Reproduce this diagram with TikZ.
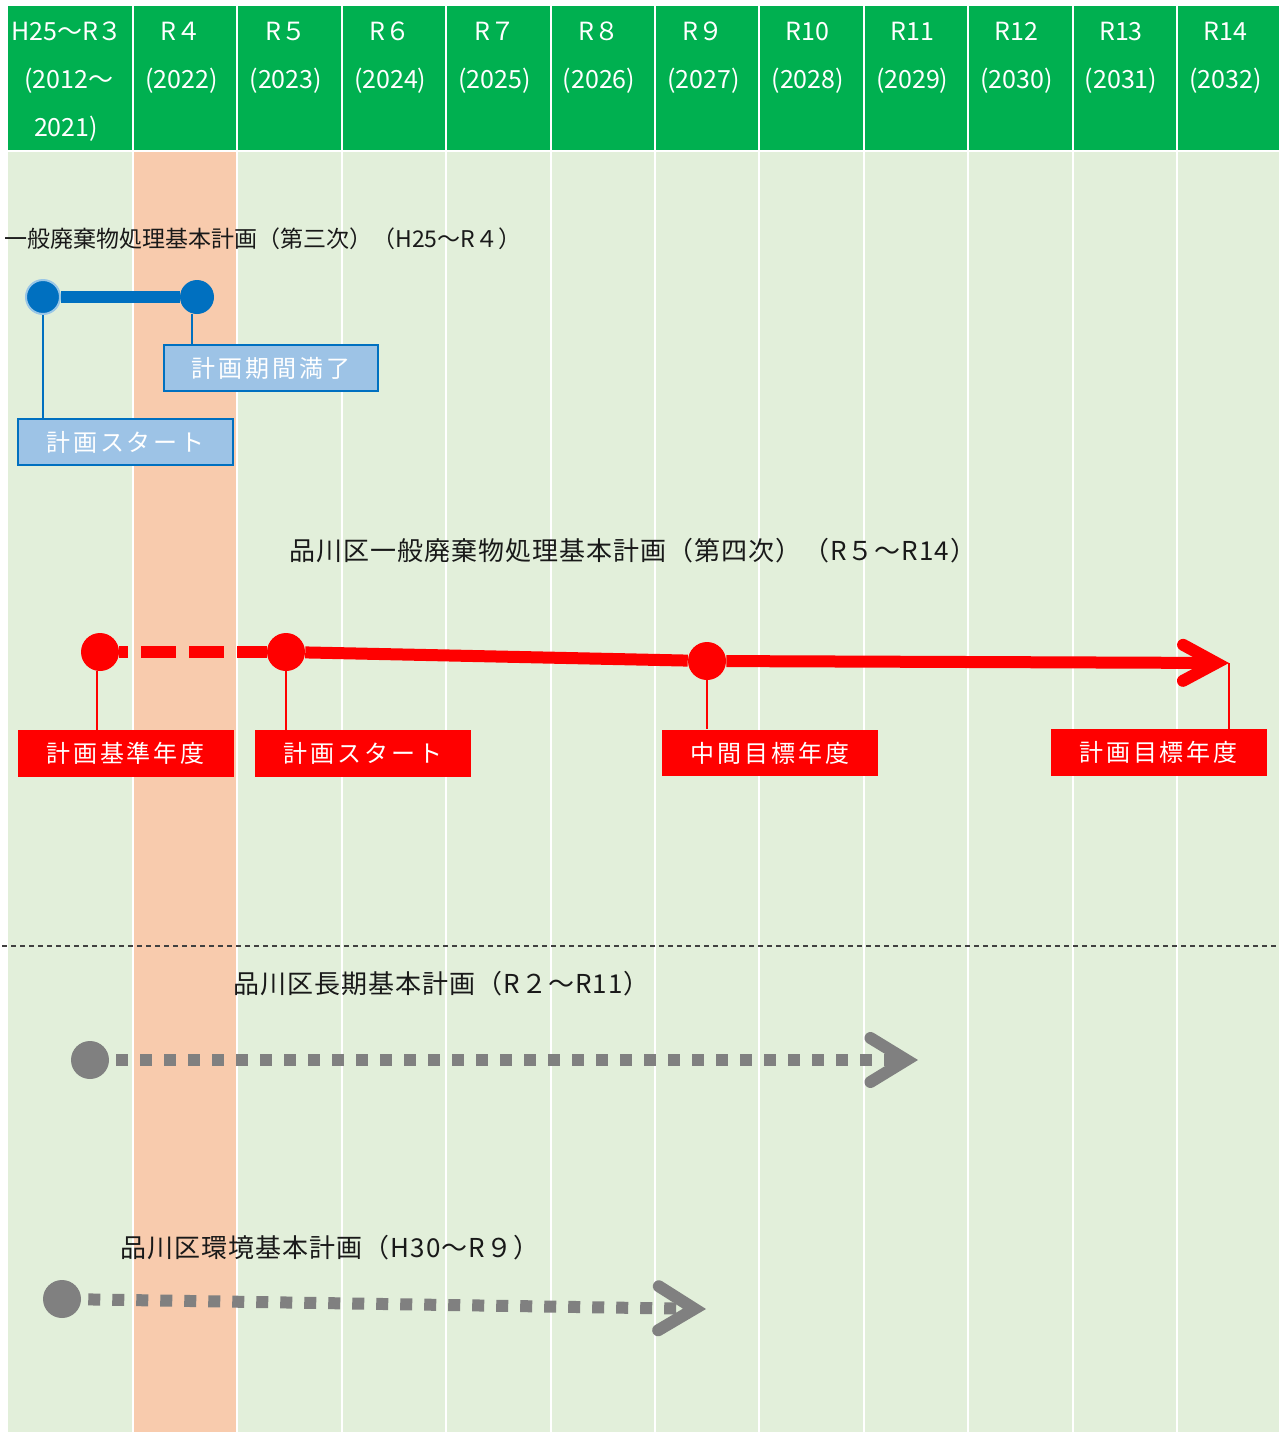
\documentclass[tikz,border=0pt]{standalone}
\usepackage{fontspec}
\setmainfont{Noto Sans CJK JP}
\newfontfamily\lblfont[LetterSpace=12]{Noto Sans CJK JP}
\newfontfamily\ttlfont[LetterSpace=4]{Noto Sans CJK JP}
\usetikzlibrary{arrows.meta}
\definecolor{hdrgreen}{HTML}{00B050}
\definecolor{bodygreen}{HTML}{E2EFDA}
\definecolor{nowpeach}{HTML}{F8CBAD}
\definecolor{planblue}{HTML}{0070C0}
\definecolor{boxblue}{HTML}{9DC3E6}
\definecolor{planred}{HTML}{FF0000}
\definecolor{plangray}{HTML}{808080}
\tikzset{
  colsep/.style  = {white, line width=1.5pt},
  hdrtext/.style = {white, anchor=base, inner sep=0pt, font=\fontsize{18.75pt}{20pt}\selectfont},
  title/.style   = {anchor=west, inner sep=0pt, text=black!90},
  bdot/.style    = {circle, fill=planblue, minimum size=25.5pt, inner sep=0pt},
  bline/.style   = {planblue, line width=8.5pt},
  blead/.style   = {planblue, line width=1.2pt},
  bbox/.style    = {draw=planblue, line width=1.5pt, fill=boxblue, text=white,
                    minimum width=161pt, minimum height=35pt, inner sep=0pt,
                    font=\lblfont\fontsize{18pt}{19pt}\selectfont},
  rdot/.style    = {circle, fill=planred, minimum size=28.5pt, inner sep=0pt},
  rline/.style   = {planred, line width=9pt},
  rlead/.style   = {planred, line width=0.9pt},
  rbox/.style    = {fill=planred, text=white, minimum width=162pt, minimum height=35pt,
                    inner sep=0pt, font=\lblfont\fontsize{18pt}{19pt}\selectfont},
  gdot/.style    = {circle, fill=plangray, minimum size=28.5pt, inner sep=0pt},
  gline/.style   = {plangray, line width=9pt, dash pattern=on 9pt off 9pt, dash phase=12.75pt,
                    -{Straight Barb[length=27pt, width=33pt, line width=9pt, line cap=round, line join=miter]}},
  divide/.style  = {black!75, line width=1.1pt, dash pattern=on 3.75pt off 3pt},
}

\begin{document}
\begin{tikzpicture}[x=0.75pt, y=-0.75pt]
        \useasboundingbox (0,0) rectangle (1279,1432);
        \fill[white] (0,0) rectangle (1279,1432);
        % table
        \fill[hdrgreen] (8,6) rectangle (1279,150);
        \fill[bodygreen] (8,152) rectangle (1279,1432);
        \fill[nowpeach] (134,152) rectangle (237,1432);
        \draw[colsep] (8,151) -- (1279,151);
        \foreach \i in {0,...,10} {
            \draw[colsep] (133+104.4*\i,6) -- (133+104.4*\i,1432);
        }
        \node[hdrtext] (h0a) at (67,40) {H25～R３};
        \node[hdrtext] (h0b) at (69,88) {(2012～};
        \node[hdrtext] (h0c) at (66,136) {2021)};
        \foreach \k/\r/\y in {1/R４/2022, 2/R５/2023, 3/R６/2024, 4/R７/2025, 5/R８/2026, 6/R９/2027,
                              7/R10/2028, 8/R11/2029, 9/R12/2030, 10/R13/2031, 11/R14/2032} {
            \node[hdrtext] (h\k a) at (133+104.4*\k-56,40) {\r};
            \node[hdrtext] (h\k b) at (133+104.4*\k-56,88) {(\y)};
        }
        \draw[divide] (2,946) -- (1279,946);
        % third plan
        \node[title, font=\fontsize{17.25pt}{18pt}\selectfont] (t1) at (4,239) {一般廃棄物処理基本計画（第三次）（H25～R４）};
        \node[bdot, draw=planblue!40, line width=1.5pt] (o1) at (43,297) {};
        \node[bdot] (o2) at (197,297) {};
        \draw[bline] (o1) -- (o2);
        \node[bbox] (ob1) at (271,368) {計画期間満了};
        \node[bbox] (ob2) at (125.5,442) {計画スタート};
        \draw[blead] (o1) -- (o1 |- ob2.north);
        \draw[blead] ([xshift=-3.75pt]o2.south) -- ([xshift=-3.75pt]o2.south |- ob1.north);
        % fourth plan
        \node[title, font=\ttlfont\fontsize{19.5pt}{20pt}\selectfont] (t2) at (289,551) {品川区一般廃棄物処理基本計画（第四次）（R５～R14）};
        \node[rdot] (n1) at (100,652) {};
        \node[rdot] (n2) at (286,652) {};
        \node[rdot] (n3) at (707,661) {};
        \coordinate (n4) at (1229,663);
        \draw[rline, dash pattern=on 26.25pt off 9.75pt, dash phase=19.5pt] (n1) -- (n2);
        \draw[rline] (n2) -- (n3);
        \draw[rline, -{Straight Barb[length=25pt, width=27pt, line width=9pt, line cap=round, line join=miter]}] (n3) -- (n4);
        \node[rbox] (m1) at (125.5,753.5) {計画基準年度};
        \node[rbox] (m2) at (363,753.5) {計画スタート};
        \node[rbox] (m3) at (770,753) {中間目標年度};
        \node[rbox] (m4) at (1158.5,752.5) {計画目標年度};
        \draw[rlead] ([xshift=-2.25pt]n1.south) -- ([xshift=-2.25pt]n1.south |- m1.north);
        \draw[rlead] (n2) -- (n2 |- m2.north);
        \draw[rlead] (n3) -- (n3 |- m3.north);
        \draw[rlead] (n4) -- (n4 |- m4.north);
        % related plans
        \node[title, font=\ttlfont\fontsize{19.5pt}{20pt}\selectfont] (t3) at (233,984) {品川区長期基本計画（R２～R11）};
        \node[gdot] (p1) at (90,1060) {};
        \coordinate (p2) at (918,1060);
        \draw[gline] (p1) -- (p2);
        \node[title, font=\ttlfont\fontsize{19.5pt}{20pt}\selectfont] (t4) at (120,1248) {品川区環境基本計画（H30～R９）};
        \node[gdot] (q1) at (62,1299) {};
        \coordinate (q2) at (706,1309);
        \draw[gline] (q1) -- (q2);
\end{tikzpicture}
\end{document}
